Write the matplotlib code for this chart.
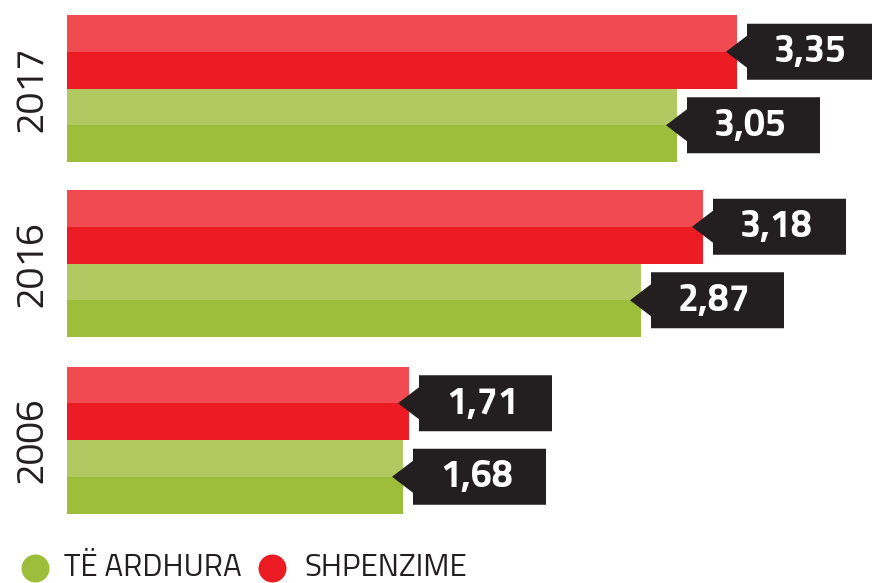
import numpy as np
import matplotlib
matplotlib.use("Agg")
import matplotlib.pyplot as plt
from matplotlib.patches import Polygon

plt.rcParams['font.family'] = ['Titillium Web', 'DejaVu Sans']

# data
years = ['2017', '2016', '2006']
te_ardhura = [3.05, 2.87, 1.68]   # green
shpenzime = [3.35, 3.18, 1.71]    # red
labels_legend = ['TË ARDHURA', 'SHPENZIME']

red_light, red_dark = '#f24a51', '#ed1c24'
green_light, green_dark = '#b1c960', '#9dbe3b'
box_col = '#231f20'

fig = plt.figure(figsize=(8.72, 5.83), dpi=100)
ax = fig.add_axes([0, 0, 1, 1])
PX = 1 / 200.0  # data units per pixel on x
ax.set_xlim(-67 * PX, 805 * PX)
ax.set_ylim(583, 0)
ax.axis('off')

centers = np.array([88.5, 263.5, 440.0])
bh = 73.5  # bar height (each series)

def draw_bar(yc, v, light, dark):
    ax.barh(yc - bh / 4, v, height=bh / 2, left=0, color=light, linewidth=0)
    ax.barh(yc + bh / 4, v, height=bh / 2, left=0, color=dark, linewidth=0)

def draw_label(yc, v):
    tip = v - 11 * PX
    x0 = v + 10 * PX
    x1 = x0 + 133 * PX
    hh = 28
    ah = 16
    pts = [(tip, yc), (x0, yc - ah), (x0, yc - hh), (x1, yc - hh),
           (x1, yc + hh), (x0, yc + hh), (x0, yc + ah)]
    ax.add_patch(Polygon(pts, closed=True, facecolor=box_col, edgecolor='none', zorder=3))
    ax.text((x0 + x1) / 2 - 3 * PX, yc + 1, ('%.2f' % v).replace('.', ','), color='white',
            fontsize=27, fontweight='bold', ha='center', va='center', zorder=4)

for i, yr in enumerate(years):
    yc = centers[i]
    yr_red = yc - bh / 2
    yr_green = yc + bh / 2
    draw_bar(yr_red, shpenzime[i], red_light, red_dark)
    draw_bar(yr_green, te_ardhura[i], green_light, green_dark)
    draw_label(yr_red, shpenzime[i])
    draw_label(yr_green, te_ardhura[i])
    ax.text(-35 * PX, yc, yr, rotation=90, fontsize=28, color=box_col,
            ha='center', va='center')

# legend
ly = 1 - 568 / 583.0
for cx, tx, col, lab in [(35, 64, green_dark, labels_legend[0]),
                         (272, 305, red_dark, labels_legend[1])]:
    ax.scatter([cx / 872.0], [ly], s=28 * 0.72 * 28 * 0.72, color=col,
               transform=ax.transAxes, clip_on=False, linewidths=0)
    ax.text(tx / 872.0, ly, lab, fontsize=22.5, color=box_col, ha='left', va='center',
            transform=ax.transAxes)

fig.savefig('out.png', dpi=100)
